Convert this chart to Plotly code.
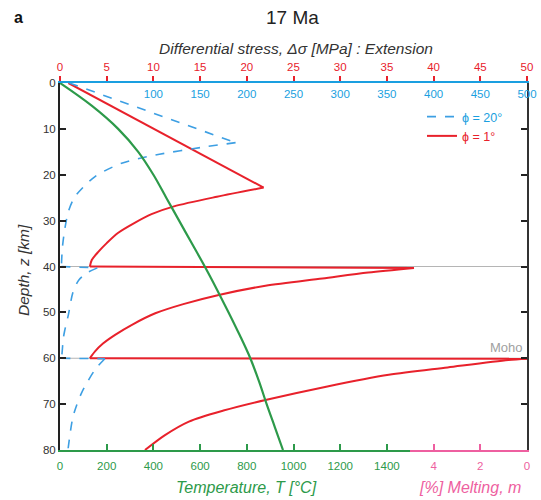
import plotly.graph_objects as go

# ---------------- data ----------------
temp_depth = [0, 5, 10, 15, 20, 25, 30, 35, 40, 45, 50, 55, 60, 65, 70, 75, 80]
temp_vals = [0, 137, 249, 335, 400, 455, 510, 565, 620, 672, 722, 770, 815, 852, 885, 920, 955]

# phi = 1 deg (red), split into branches (None = break between branches)
red_depth = [0, 22.8, None,
             22.8, 24.8, 26.9, 28.6, 30.6, 32.7, 34.9, 36.8, 38.6, 40.0, None,
             40.0, 40.3, None,
             40.3, 41.3, 42.6, 44.2, 46.2, 48.2, 50.2, 52.6, 54.9, 56.8, 58.5, 60.0, None,
             60.0, 60.1, None,
             60.1, 60.4, 62.0, 63.6, 66.2, 69.1, 71.4, 73.8, 76.8, 80.0]
red_stress = [0.9, 21.8, None,
              21.8, 16.8, 12.2, 9.8, 7.9, 6.2, 5.0, 4.1, 3.4, 3.2, None,
              3.2, 37.9, None,
              37.9, 33.0, 28.1, 22.0, 17.0, 13.2, 10.2, 7.8, 5.9, 4.6, 3.75, 3.2, None,
              3.2, 50.0, None,
              50.0, 48.0, 41.5, 35.2, 28.5, 22.0, 17.5, 13.8, 11.2, 9.1]

# phi = 20 deg (blue dashed)
blue_depth = [0, 13.0, None,
              13.0, 13.9, 15.7, 17.5, 20.4, 24.8, 28.0, 32.0, 36.0, 40.0, None,
              40.0, 40.3, None,
              40.3, 41.5, 43.0, 45.5, 50.5, 54.0, 55.6, 59.3, 60.0, None,
              60.0, 60.1, None,
              60.1, 62.5, 67.6, 72.7, 79.2, 80.0]
blue_stress = [10, 188, None,
               188, 156, 102, 66, 37.5, 16, 9, 5, 2.5, 1.5, None,
               1.5, 40, None,
               40, 28, 20, 14, 9, 5, 3.6, 2, 1.5, None,
               1.5, 48, None,
               48, 37.5, 23, 14, 9, 8.5]

red_ticks = [0, 5, 10, 15, 20, 25, 30, 35, 40, 45, 50]
blue_ticks = [100, 150, 200, 250, 300, 350, 400, 450, 500]
temp_ticks = [0, 200, 400, 600, 800, 1000, 1200, 1400]
melt_ticks = [4, 2, 0]
depth_ticks = [0, 10, 20, 30, 40, 50, 60, 70, 80]
boundary_depths = [40, 60]

# ---------------- style ----------------
RED = '#e8212b'
BLUE = '#3d9fe3'
AXBLUE = '#1a9fe0'
GREEN = '#2d9a4a'
PINK = '#ee5fa0'
DARK = '#333333'
FONT = 'Liberation Sans, Arial, sans-serif'

fig = go.Figure()

fig.add_trace(go.Scatter(x=blue_stress, y=blue_depth, xaxis='x3', yaxis='y',
                         mode='lines', connectgaps=False,
                         line=dict(color=BLUE, width=1.6, dash='dash', shape='spline', smoothing=0.8),
                         name='<span style="color:%s">ϕ = 20°</span>' % AXBLUE))
fig.add_trace(go.Scatter(x=red_stress, y=red_depth, xaxis='x', yaxis='y',
                         mode='lines', connectgaps=False,
                         line=dict(color=RED, width=2, shape='spline', smoothing=0.8),
                         name='<span style="color:%s">ϕ = 1°</span>' % RED))
fig.add_trace(go.Scatter(x=temp_vals, y=temp_depth, xaxis='x4', yaxis='y',
                         mode='lines', line=dict(color=GREEN, width=2.2, shape='spline', smoothing=1),
                         showlegend=False))
fig.add_trace(go.Scatter(x=[None], y=[None], xaxis='x5', yaxis='y',
                         mode='lines', showlegend=False, hoverinfo='skip'))

shapes = []
for d in boundary_depths:
    shapes.append(dict(type='line', xref='paper', yref='y', x0=0, x1=1, y0=d, y1=d,
                       line=dict(color='#b5b5b5', width=1.2), layer='below'))

W, H = 541, 500
ml, mr, mt, mb = 60, 14, 83, 50
pw, ph = W - ml - mr, H - mt - mb


def px(X):
    return (X - ml) / pw


def py(Y):
    return (H - mb - Y) / ph


def ann(text, X, Y, size, color, **kw):
    d = dict(text=text, x=px(X), y=py(Y), xref='paper', yref='paper',
             xanchor='center', yanchor='middle', showarrow=False,
             font=dict(size=size, color=color, family=FONT))
    d.update(kw)
    return d


annotations = [
    ann('<b>a</b>', 18, 18, 16, '#111'),
    ann('17 Ma', 292, 18, 19, '#222'),
    ann('<i>Differential stress, Δσ [MPa] : Extension</i>', 296, 48, 15.5, DARK),
    ann('<i>Temperature, T [°C]</i>', 246, 487, 16, GREEN),
    ann('<i>[%] Melting, m</i>', 470, 487, 16, PINK),
    ann('<i>Depth, z [km]</i>', 23, 270, 15.5, DARK, textangle=-90),
    dict(text='Moho', x=1, y=60, xref='paper', yref='y', xanchor='right', yanchor='bottom',
         yshift=1, xshift=-2, showarrow=False, font=dict(size=13, color='#a0a0a0', family=FONT)),
]

fig.update_layout(
    width=W, height=H,
    margin=dict(l=ml, r=mr, t=mt, b=mb, pad=0, autoexpand=False),
    paper_bgcolor='white', plot_bgcolor='rgba(0,0,0,0)',
    font=dict(family=FONT, size=11.5, color=DARK),
    shapes=shapes, annotations=annotations,
    showlegend=True,
    legend=dict(x=px(422), y=py(102), xanchor='left', yanchor='top',
                bgcolor='rgba(0,0,0,0)', font=dict(size=12.5, family=FONT),
                tracegroupgap=0, itemwidth=30),
    xaxis=dict(domain=[0, 1], range=[0, 50], side='top', anchor='y',
               tickvals=red_ticks, ticks='outside', ticklen=5, tickwidth=1.5,
               tickcolor=RED, tickfont=dict(color=RED, size=11.5),
               showline=True, linecolor=AXBLUE, linewidth=2, showgrid=False,
               zeroline=False, automargin=False),
    xaxis3=dict(range=[0, 500], overlaying='x', side='top', anchor='y',
                tickvals=blue_ticks, ticks='', ticklabelposition='inside',
                ticklabelstandoff=4, ticklabeloverflow='allow', automargin=False,
                tickfont=dict(color=AXBLUE, size=11.5), showline=False,
                showgrid=False, zeroline=False),
    xaxis4=dict(domain=[0, 0.75], range=[0, 1500], side='bottom', anchor='y',
                tickvals=temp_ticks, ticks='inside', ticklen=6, tickwidth=1.5,
                tickcolor=GREEN, tickfont=dict(color=GREEN, size=11.5),
                ticklabelstandoff=4, automargin=False,
                showline=True, linecolor=GREEN, linewidth=2, showgrid=False,
                zeroline=False),
    xaxis5=dict(domain=[0.75, 1], range=[5, 0], side='bottom', anchor='y',
                tickvals=melt_ticks, ticks='inside', ticklen=6, tickwidth=1.5,
                tickcolor=PINK, tickfont=dict(color=PINK, size=11.5),
                ticklabelstandoff=4, automargin=False,
                showline=True, linecolor=PINK, linewidth=2, showgrid=False,
                zeroline=False),
    yaxis=dict(domain=[0, 1], range=[80, 0], anchor='x', side='left',
               tickvals=depth_ticks, ticks='inside', ticklen=6, tickwidth=1.5,
               tickcolor='#222', tickfont=dict(color=DARK, size=11.5),
               showline=True, linecolor='#222', linewidth=2, showgrid=False,
               zeroline=False, automargin=False),
    yaxis2=dict(range=[80, 0], overlaying='y', side='right', anchor='x',
                tickvals=depth_ticks, ticks='inside', ticklen=6, tickwidth=1.5,
                tickcolor='#222', showticklabels=False, automargin=False,
                showline=True, linecolor='#333', linewidth=2, showgrid=False,
                zeroline=False),
)

fig.add_trace(go.Scatter(x=[None], y=[None], xaxis='x', yaxis='y2',
                         mode='lines', showlegend=False, hoverinfo='skip'))

fig.write_html('out.html')
